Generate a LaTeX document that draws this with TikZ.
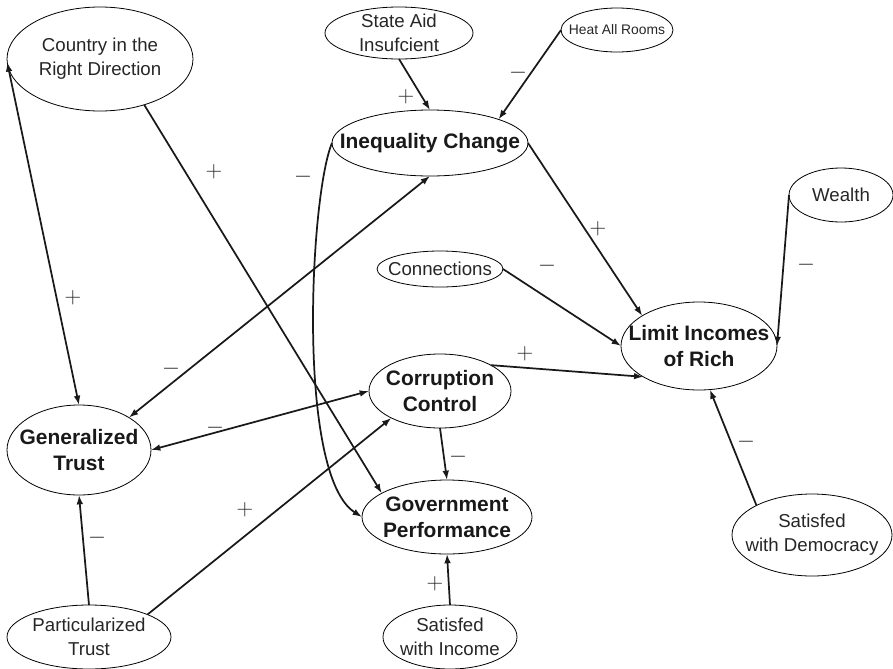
\documentclass[tikz,border=0pt]{standalone}
\usepackage{fontspec}
\setmainfont{Liberation Sans}
\usetikzlibrary{
  arrows.meta,
  positioning,
  shapes,
}
\tikzset{
  >={Latex[length=7pt,width=5pt]},
  var/.style={draw,ellipse,line width=0.6pt,inner sep=0pt,outer sep=0pt},
  varname/.style={align=center,text=black!85,font=\fontsize{14}{18}\selectfont},
  smallname/.style={align=center,text=black!85,font=\fontsize{10.4}{13}\selectfont},
  keyname/.style={align=center,text=black!90,font=\fontsize{15.7}{19.3}\selectfont\bfseries},
  link/.style={line width=1.3pt,black!90},
  sign/.style={inner sep=0pt,text=black!85,font=\fontsize{17}{17}\selectfont},
}

\begin{document}
\begin{tikzpicture}[x=0.75pt,y=-0.75pt]
        \useasboundingbox (0,0) rectangle (893,668);

        % outer variables
        \node[var,minimum width=139.5pt,minimum height=78pt,label={[varname]center:Country in the\\Right Direction}]    (dir)   at (100,59)  {};
        \node[var,minimum width=111pt,minimum height=39pt,label={[varname]center:State Aid\\Insufcient}]    (aid)   at (399,33)  {};
        \node[var,minimum width=84pt,minimum height=33pt,label={[smallname]center:Heat All Rooms}]    (heat)  at (617,30)  {};
        \node[var,minimum width=78pt,minimum height=40.5pt,label={[varname]center:Wealth}]    (wealth) at (841,195) {};
        \node[var,minimum width=94.5pt,minimum height=27pt,label={[varname]center:Connections}]    (conn)  at (440,269) {};
        \node[var,minimum width=123pt,minimum height=48pt,label={[varname]center:Particularized\\Trust}]    (ptrust) at (89,637) {};
        \node[var,minimum width=100.5pt,minimum height=48pt,label={[varname]center:Satisfed\\with Income}]    (income) at (450,637) {};
        \node[var,minimum width=120pt,minimum height=61.5pt,label={[varname]center:Satisfed\\with Democracy}]    (demo)  at (812,535) {};

        % key variables
        \node[var,minimum width=147pt,minimum height=49.5pt,label={[keyname]center:Inequality Change}]    (ineq)  at (430,143) {};
        \node[var,minimum width=117pt,minimum height=66pt,label={[keyname]center:Limit Incomes\\of Rich}]    (limit) at (699,346) {};
        \node[var,minimum width=106.5pt,minimum height=55.5pt,label={[keyname]center:Corruption\\Control}]    (corr)  at (440,391) {};
        \node[var,minimum width=127.5pt,minimum height=55.5pt,label={[keyname]center:Government\\Performance}]    (gov)   at (447,517) {};
        \node[var,minimum width=108pt,minimum height=67.5pt,label={[keyname]center:Generalized\\Trust}]    (gtrust) at (79,450) {};

        % paths
        \draw[link,<->] (gtrust.north) -- (dir.182);
        \draw[link,->] (dir.314) -- (gov.160);
        \draw[link,<->] (gtrust.33) -- (ineq.south);
        \draw[link,<->] (gtrust.east) -- (corr.west);
        \draw[link,->] (ptrust.north) -- (gtrust.south);
        \draw[link,->] (ptrust.21) -- (corr.209);
        \draw[link,->] (ineq.west) .. controls (310,195) and (296,475) .. (gov.west);
        \draw[link,->] (aid.south) -- (ineq.north);
        \draw[link,->] (heat.west) -- (ineq.19);
        \draw[link,->] (ineq.east) -- (limit.152);
        \draw[link,->] (conn.east) -- (limit.west);
        \draw[link,->] (corr.27) -- (limit.209);
        \draw[link,->] (wealth.west) -- (limit.east);
        \draw[link,->] (demo.152) -- (limit.284);
        \draw[link,->] (corr.south) -- (gov.north);
        \draw[link,->] (income.north) -- (gov.south);

        % signs
        \node[sign] (s1)  at (73,298)  {$+$};
        \node[sign] (s2)  at (214,172) {$+$};
        \node[sign] (s3)  at (171,369) {$-$};
        \node[sign] (s4)  at (215,428) {$-$};
        \node[sign] (s5)  at (97,538)  {$-$};
        \node[sign] (s6)  at (245,510) {$+$};
        \node[sign] (s7)  at (303,177) {$-$};
        \node[sign] (s8)  at (406,97)  {$+$};
        \node[sign] (s9)  at (518,73)  {$-$};
        \node[sign] (s10) at (598,229) {$+$};
        \node[sign] (s11) at (547,266) {$-$};
        \node[sign] (s12) at (525,354) {$+$};
        \node[sign] (s13) at (806,265) {$-$};
        \node[sign] (s14) at (746,442) {$-$};
        \node[sign] (s15) at (458,457) {$-$};
        \node[sign] (s16) at (435,584) {$+$};

    \end{tikzpicture}
\end{document}
